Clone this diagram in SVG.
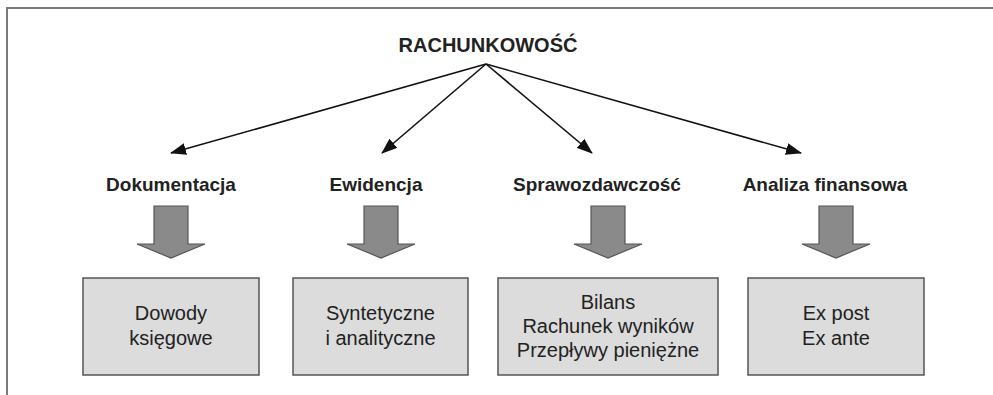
<svg xmlns="http://www.w3.org/2000/svg" width="993" height="395" viewBox="0 0 993 395">
<defs>
<style>
.frame{fill:none;stroke:#7a7a7a;stroke-width:2}
.ttl{font-family:"Liberation Sans",Arial,sans-serif;font-weight:bold;fill:#222;text-anchor:middle}
.txt{font-family:"Liberation Sans",Arial,sans-serif;font-size:20px;fill:#222;text-anchor:middle}
.box{fill:#dcdcdc;stroke:#555;stroke-width:1.5}
.barrow{fill:#8a8a8a;stroke:#555;stroke-width:1.2}
.conn{stroke:#111;stroke-width:1.6;fill:none;marker-end:url(#ah)}
</style>
<marker id="ah" viewBox="0 0 16 12" refX="15" refY="6" markerWidth="16" markerHeight="12" markerUnits="userSpaceOnUse" orient="auto">
<path d="M0,0 L16,6 L0,12 Z" fill="#111"/>
</marker>
</defs>
<rect width="993" height="395" fill="#fff"/>
<path class="frame" d="M7,395 L7,8 L993,8"/>
<g id="root"><text class="ttl" x="488" y="52" font-size="20">RACHUNKOWOŚĆ</text></g>
<g id="connectors">
<line class="conn" x1="486" y1="64" x2="171" y2="153"/>
<line class="conn" x1="486" y1="64" x2="382" y2="153"/>
<line class="conn" x1="486" y1="64" x2="592" y2="153"/>
<line class="conn" x1="486" y1="64" x2="801" y2="153"/>
</g>
<g id="dokumentacja">
<text class="ttl" x="171" y="191" font-size="19">Dokumentacja</text>
<path class="barrow" d="M154,206 L188,206 L188,244 L205,244 L171,258 L137,244 L154,244 Z"/>
<rect class="box" x="83" y="278" width="176" height="97"/>
<text class="txt" x="171" y="320">Dowody</text>
<text class="txt" x="171" y="345">księgowe</text>
</g>
<g id="ewidencja">
<text class="ttl" x="376" y="191" font-size="19">Ewidencja</text>
<path class="barrow" d="M364,206 L398,206 L398,244 L415,244 L381,258 L347,244 L364,244 Z"/>
<rect class="box" x="293" y="278" width="175" height="97"/>
<text class="txt" x="380.5" y="320">Syntetyczne</text>
<text class="txt" x="380.5" y="345">i analityczne</text>
</g>
<g id="sprawozdawczosc">
<text class="ttl" x="597" y="191" font-size="19">Sprawozdawczość</text>
<path class="barrow" d="M591,206 L625,206 L625,244 L642,244 L608,258 L574,244 L591,244 Z"/>
<rect class="box" x="498" y="278" width="220" height="97"/>
<text class="txt" x="608" y="309">Bilans</text>
<text class="txt" x="608" y="333">Rachunek wyników</text>
<text class="txt" x="608" y="357">Przepływy pieniężne</text>
</g>
<g id="analiza">
<text class="ttl" x="825" y="191" font-size="19">Analiza finansowa</text>
<path class="barrow" d="M819,206 L853,206 L853,244 L870,244 L836,258 L802,244 L819,244 Z"/>
<rect class="box" x="748" y="278" width="176" height="97"/>
<text class="txt" x="836" y="320">Ex post</text>
<text class="txt" x="836" y="345">Ex ante</text>
</g>
</svg>
